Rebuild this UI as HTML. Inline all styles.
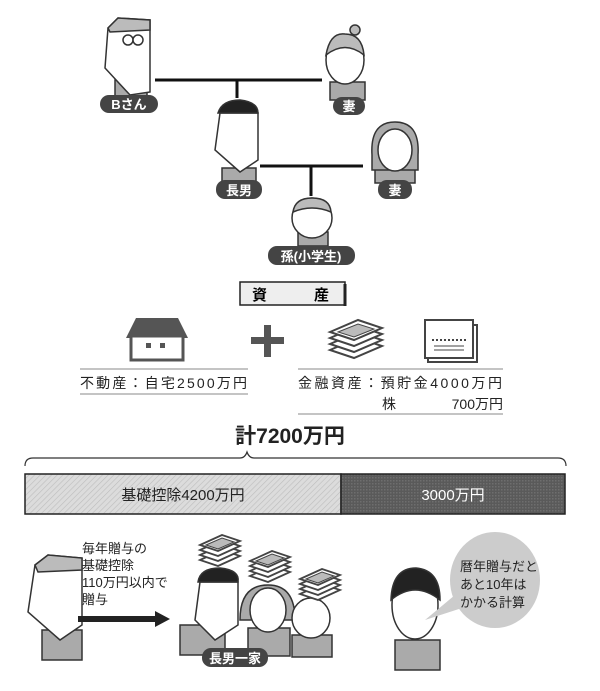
<!DOCTYPE html>
<html><head><meta charset="utf-8"><style>
body{margin:0;background:#fff;}
svg text{font-family:"Liberation Sans","Noto Sans CJK JP",sans-serif;}
</style></head><body>
<svg width="600" height="686" viewBox="0 0 600 686" xmlns="http://www.w3.org/2000/svg">
<defs>
<pattern id="hatch" width="4" height="4" patternUnits="userSpaceOnUse" patternTransform="rotate(45)">
<rect width="4" height="4" fill="#dcdcdc"/><line x1="0" y1="0" x2="0" y2="4" stroke="#bdbdbd" stroke-width="1.2"/></pattern>
<pattern id="dots" width="3" height="3" patternUnits="userSpaceOnUse">
<rect width="3" height="3" fill="#5a5a5a"/><rect width="1.5" height="1.5" fill="#6e6e6e"/></pattern>
<g id="cash">
<path d="M0 30 L28 18 L52 26 L24 38Z" fill="#fff" stroke="#444" stroke-width="2"/>
<path d="M0 24 L28 12 L52 20 L24 32Z" fill="#fff" stroke="#444" stroke-width="2"/>
<path d="M0 18 L28 6 L52 14 L24 26Z" fill="#fff" stroke="#444" stroke-width="2"/>
<path d="M0 12 L28 0 L52 8 L24 20Z" fill="#fff" stroke="#444" stroke-width="2"/>
<path d="M8 12 L28 4 L44 9 L24 17Z" fill="#bbb" stroke="#444" stroke-width="1"/>
</g>
<g id="cashs">
<path d="M0 24 L22 14 L40 20 L18 30Z" fill="#fff" stroke="#444" stroke-width="1.8"/>
<path d="M0 19 L22 9 L40 15 L18 25Z" fill="#fff" stroke="#444" stroke-width="1.8"/>
<path d="M0 14 L22 4 L40 10 L18 20Z" fill="#fff" stroke="#444" stroke-width="1.8"/>
<path d="M0 9 L22 -1 L40 5 L18 15Z" fill="#fff" stroke="#444" stroke-width="1.8"/>
<path d="M6 9 L22 2 L34 6 L18 13Z" fill="#bbb" stroke="#444" stroke-width="1"/>
</g>
</defs>
<g stroke="#111" stroke-width="3" fill="none">
<line x1="155" y1="80" x2="322" y2="80"/><line x1="237" y1="80" x2="237" y2="98"/>
<line x1="260" y1="166" x2="363" y2="166"/><line x1="311" y1="166" x2="311" y2="196"/>
</g>
<g stroke="#333" stroke-width="1.5">
<rect x="115" y="80" width="32" height="18" fill="#aaa"/>
<path d="M108 28 L118 18 L150 20 L150 92 L130 95 L105 68Z" fill="#fff"/>
<path d="M108 28 L118 18 L150 20 L150 30 L110 32Z" fill="#bbb"/>
<circle cx="128" cy="40" r="5" fill="#fff"/><circle cx="138" cy="40" r="5" fill="#fff"/>
<rect x="330" y="82" width="35" height="18" fill="#aaa"/>
<circle cx="355" cy="30" r="5" fill="#bbb"/>
<ellipse cx="345" cy="60" rx="19" ry="24" fill="#fff"/>
<path d="M326 55 Q330 32 345 34 Q362 34 364 55 Q345 40 326 55Z" fill="#bbb"/>
<rect x="222" y="168" width="34" height="15" fill="#aaa"/>
<path d="M220 113 L258 113 L258 160 L240 172 L215 150Z" fill="#fff"/>
<path d="M218 113 Q222 100 240 100 Q258 102 258 113Z" fill="#222"/>
<rect x="375" y="165" width="40" height="18" fill="#aaa"/>
<path d="M372 155 Q370 122 395 122 Q420 122 418 155 L418 170 L372 170Z" fill="#aaa"/>
<ellipse cx="395" cy="150" rx="17" ry="21" fill="#fff"/>
<rect x="298" y="232" width="30" height="14" fill="#aaa"/>
<ellipse cx="312" cy="218" rx="20" ry="20" fill="#fff"/>
<path d="M293 212 Q295 198 312 198 Q330 198 331 212 Q312 204 293 212Z" fill="#bbb"/>
</g>
<g fill="#444">
<rect x="100" y="95" width="58" height="18" rx="9"/><rect x="333" y="97" width="32" height="18" rx="9"/>
<rect x="216" y="180" width="46" height="19" rx="9"/><rect x="378" y="180" width="34" height="19" rx="9"/>
<rect x="268" y="246" width="87" height="19" rx="9"/>
</g>
<g fill="#fff" font-size="13" font-weight="bold" text-anchor="middle">
<text x="129" y="109">Bさん</text><text x="349" y="111">妻</text>
<text x="239" y="195">長男</text><text x="395" y="195">妻</text>
<text x="311" y="261">孫(小学生)</text>
</g>
<rect x="240" y="282" width="105" height="23" fill="#eee" stroke="#222" stroke-width="1.5"/>
<line x1="345" y1="284" x2="345" y2="306" stroke="#222" stroke-width="3"/>
<text x="252" y="300" font-size="15" font-weight="bold">資</text><text x="314" y="300" font-size="15" font-weight="bold">産</text>
<path d="M136 318 L178 318 L188 338 L126 338Z" fill="#555"/>
<rect x="131" y="336" width="52" height="24" fill="#fff" stroke="#555" stroke-width="3"/>
<rect x="146" y="343" width="5" height="5" fill="#555"/><rect x="160" y="343" width="5" height="5" fill="#555"/>
<rect x="251" y="337" width="33" height="7" fill="#555"/><rect x="264" y="325" width="7" height="32" fill="#555"/>
<use href="#cash" x="330" y="320"/>
<rect x="425" y="320" width="48" height="38" fill="#fff" stroke="#444" stroke-width="2"/>
<path d="M473 325 L477 325 L477 362 L428 362 L428 358" fill="none" stroke="#444" stroke-width="2"/>
<line x1="432" y1="340" x2="466" y2="340" stroke="#444" stroke-dasharray="2 2" stroke-width="2"/>
<line x1="434" y1="346" x2="464" y2="346" stroke="#444"/><line x1="434" y1="350" x2="464" y2="350" stroke="#444"/>
<g stroke="#888" stroke-width="1">
<line x1="80" y1="369" x2="248" y2="369"/><line x1="80" y1="394" x2="248" y2="394"/>
<line x1="298" y1="369" x2="503" y2="369"/><line x1="298" y1="414" x2="503" y2="414"/>
</g>
<g font-size="14" fill="#222">
<text x="80" y="388" textLength="167" lengthAdjust="spacing">不動産：自宅2500万円</text>
<text x="298" y="388" textLength="204" lengthAdjust="spacing">金融資産：預貯金4000万円</text>
<text x="382" y="409">株</text><text x="503" y="409" text-anchor="end">700万円</text>
</g>
<text x="290" y="443" font-size="21" font-weight="bold" text-anchor="middle" fill="#222">計7200万円</text>
<path d="M25 466 Q25 458 33 458 L240 458 Q245 458 247 452 Q249 458 254 458 L558 458 Q566 458 566 466" fill="none" stroke="#333" stroke-width="1.2"/>
<rect x="25" y="474" width="316" height="40" fill="url(#hatch)" stroke="#222" stroke-width="1.5"/>
<rect x="341" y="474" width="224" height="40" fill="url(#dots)" stroke="#222" stroke-width="1.5"/>
<text x="183" y="500" font-size="15" text-anchor="middle" fill="#222">基礎控除4200万円</text>
<text x="453" y="500" font-size="15" text-anchor="middle" fill="#fff">3000万円</text>
<g stroke="#333" stroke-width="1.5">
<rect x="42" y="630" width="40" height="30" fill="#aaa"/>
<path d="M35 565 L48 555 L82 558 L82 625 L60 640 L28 612Z" fill="#fff"/>
<path d="M35 565 L48 555 L82 558 L82 570 L38 572Z" fill="#bbb"/>
<rect x="180" y="625" width="45" height="30" fill="#aaa"/>
<path d="M200 582 L238 582 L238 625 L215 640 L195 620Z" fill="#fff"/>
<path d="M198 582 Q200 568 220 568 Q240 570 238 582Z" fill="#222"/>
<rect x="248" y="628" width="42" height="28" fill="#aaa"/>
<path d="M240 620 Q240 585 268 585 Q295 585 295 620Z" fill="#aaa"/>
<ellipse cx="268" cy="610" rx="18" ry="22" fill="#fff"/>
<rect x="292" y="635" width="40" height="22" fill="#aaa"/>
<ellipse cx="311" cy="618" rx="19" ry="20" fill="#fff"/>
<rect x="395" y="640" width="45" height="30" fill="#aaa"/>
<ellipse cx="415" cy="605" rx="23" ry="34" fill="#fff"/>
<path d="M391 600 Q392 568 416 568 Q440 570 440 600 Q415 580 391 600Z" fill="#222"/>
</g>
<ellipse cx="495" cy="580" rx="45" ry="48" fill="#ccc"/>
<path d="M455 595 L425 620 L462 608Z" fill="#ccc"/>
<use href="#cashs" x="200" y="536"/>
<use href="#cashs" x="250" y="552"/><use href="#cashs" x="300" y="570"/>
<rect x="78" y="616" width="80" height="6" fill="#222"/><path d="M155 611 L170 619 L155 627Z" fill="#222"/>
<rect x="202" y="648" width="66" height="19" rx="9" fill="#444"/>
<text x="235" y="663" font-size="13" font-weight="bold" fill="#fff" text-anchor="middle">長男一家</text>
<g font-size="13" fill="#222">
<text x="82" y="553">毎年贈与の</text><text x="82" y="570">基礎控除</text>
<text x="82" y="587">110万円以内で</text><text x="82" y="604">贈与</text>
<text x="460" y="571">暦年贈与だと</text><text x="460" y="589">あと10年は</text><text x="460" y="607">かかる計算</text>
</g>
</svg>
</body></html>
